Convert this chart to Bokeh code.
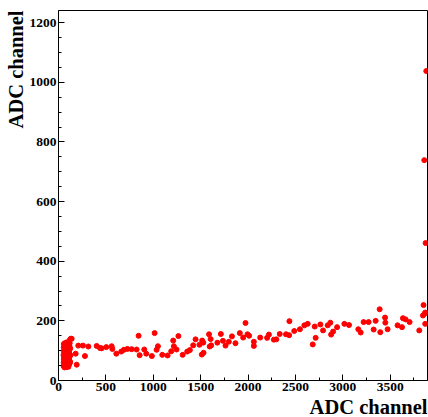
from bokeh.plotting import figure
from bokeh.models import ColumnDataSource, Range1d, SingleIntervalTicker, Title
from bokeh.embed import file_html
from bokeh.resources import INLINE

# ---- data ----
cluster_x = [55, 54, 56, 53, 57, 55, 56,
             64, 66, 63, 65, 67, 64, 66, 65,
             75, 74, 76, 73, 77, 75, 74,
             85, 84, 86, 83, 87, 85, 84, 86,
             95, 94, 96, 93, 97, 95, 94,
             105, 104, 106, 103, 107, 105, 104,
             115, 114, 116, 113, 117, 115,
             124, 126, 123]
cluster_y = [48, 60, 72, 85, 97, 110, 122,
             44, 55, 67, 78, 90, 102, 114, 125,
             50, 62, 74, 86, 98, 110, 120,
             45, 57, 69, 81, 93, 105, 117, 128,
             52, 64, 76, 88, 100, 112, 124,
             46, 58, 70, 82, 94, 106, 118,
             55, 68, 80, 92, 104, 116,
             62, 85, 108]

spread_x = [129, 118, 121, 139, 209, 181, 192, 258, 279, 315,
            403, 438, 455, 504, 561, 568, 610, 662, 690, 726, 771, 824,
            845, 856, 905, 926, 985, 1014, 1035, 1049, 1095, 1151, 1189,
            1210, 1217, 1245, 1265, 1310, 1358, 1386, 1421, 1446, 1487,
            1516, 1527, 1512, 1530, 1588, 1605, 1595, 1611, 1676, 1713,
            1735, 1762, 1797, 1830, 1867, 1913, 1948, 1973, 1994, 2011,
            2061, 2061, 2128, 2201, 2220, 2272, 2298, 2334, 2400, 2433,
            2436, 2487, 2547, 2594, 2629, 2682, 2713, 2703, 2763, 2791,
            2840, 2868, 2876, 2897, 2939, 3016, 3065, 3163, 3188, 3219,
            3272, 3325, 3346, 3388, 3395, 3445, 3448, 3472, 3577, 3624,
            3634, 3662, 3704, 3806, 3845, 3862, 3851, 3869, 3869,
            3880, 3859, 3873]
spread_y = [140, 125, 137, 140, 117, 90, 53, 117, 82, 114,
            116, 109, 108, 112, 115, 106, 90, 97, 103, 106, 105, 104,
            150, 85, 104, 90, 82, 159, 103, 115, 86, 84, 98,
            134, 115, 104, 149, 86, 97, 102, 118, 138, 120,
            134, 127, 87, 93, 155, 139, 114, 118, 127, 156,
            133, 117, 130, 148, 125, 159, 144, 193, 155, 150,
            130, 116, 144, 143, 154, 137, 138, 156, 155, 152,
            199, 166, 172, 185, 190, 121, 143, 181, 188, 168,
            185, 194, 154, 164, 179, 190, 186, 172, 161, 196,
            196, 171, 200, 239, 162, 211, 194, 172, 185, 179,
            209, 205, 196, 168, 218, 224, 253, 228, 190,
            1038, 739, 461]

x_label = "ADC channel"
y_label = "ADC channel"

X_MAX = 3893
Y_MAX = 1241

xs = cluster_x + spread_x
ys = cluster_y + spread_y
src = ColumnDataSource(dict(x=xs, y=ys))

p = figure(width=428, height=417, output_backend="svg", toolbar_location=None,
           x_range=Range1d(0, X_MAX), y_range=Range1d(0, Y_MAX),
           min_border_left=58, min_border_right=1, min_border_top=10,
           min_border_bottom=37)
p.background_fill_color = "white"
p.border_fill_color = "white"
p.outline_line_color = "black"
p.outline_line_width = 1
p.xgrid.visible = False
p.ygrid.visible = False

p.scatter("x", "y", source=src, size=5, color="#ff0000", line_color="#ff0000")

font = "Liberation Serif"
for ax, step, nminor in ((p.xaxis[0], 500, 2), (p.yaxis[0], 200, 4)):
    ax.ticker = SingleIntervalTicker(interval=step, num_minor_ticks=nminor)
    ax.major_tick_in = 6
    ax.major_tick_out = 0
    ax.minor_tick_in = 3
    ax.minor_tick_out = 0
    ax.major_label_text_font = font
    ax.major_label_text_font_style = "bold"
    ax.major_label_text_font_size = "13.5px"
    ax.major_label_text_color = "black"
    ax.axis_line_color = "black"
    ax.major_tick_line_color = "black"
    ax.minor_tick_line_color = "black"
    ax.major_label_standoff = 2

# axis titles, aligned to the frame ends as in the reference
xt = Title(text=x_label, align="right", text_font=font, text_font_style="bold",
           text_font_size="20.5px", text_color="black", standoff=0,
           text_line_height=0.85)
yt = Title(text=y_label, align="right", text_font=font, text_font_style="bold",
           text_font_size="20.5px", text_color="black", standoff=0,
           text_line_height=0.85)
p.add_layout(xt, "below")
p.add_layout(yt, "left")

open("out.html", "w").write(file_html(p, INLINE))
